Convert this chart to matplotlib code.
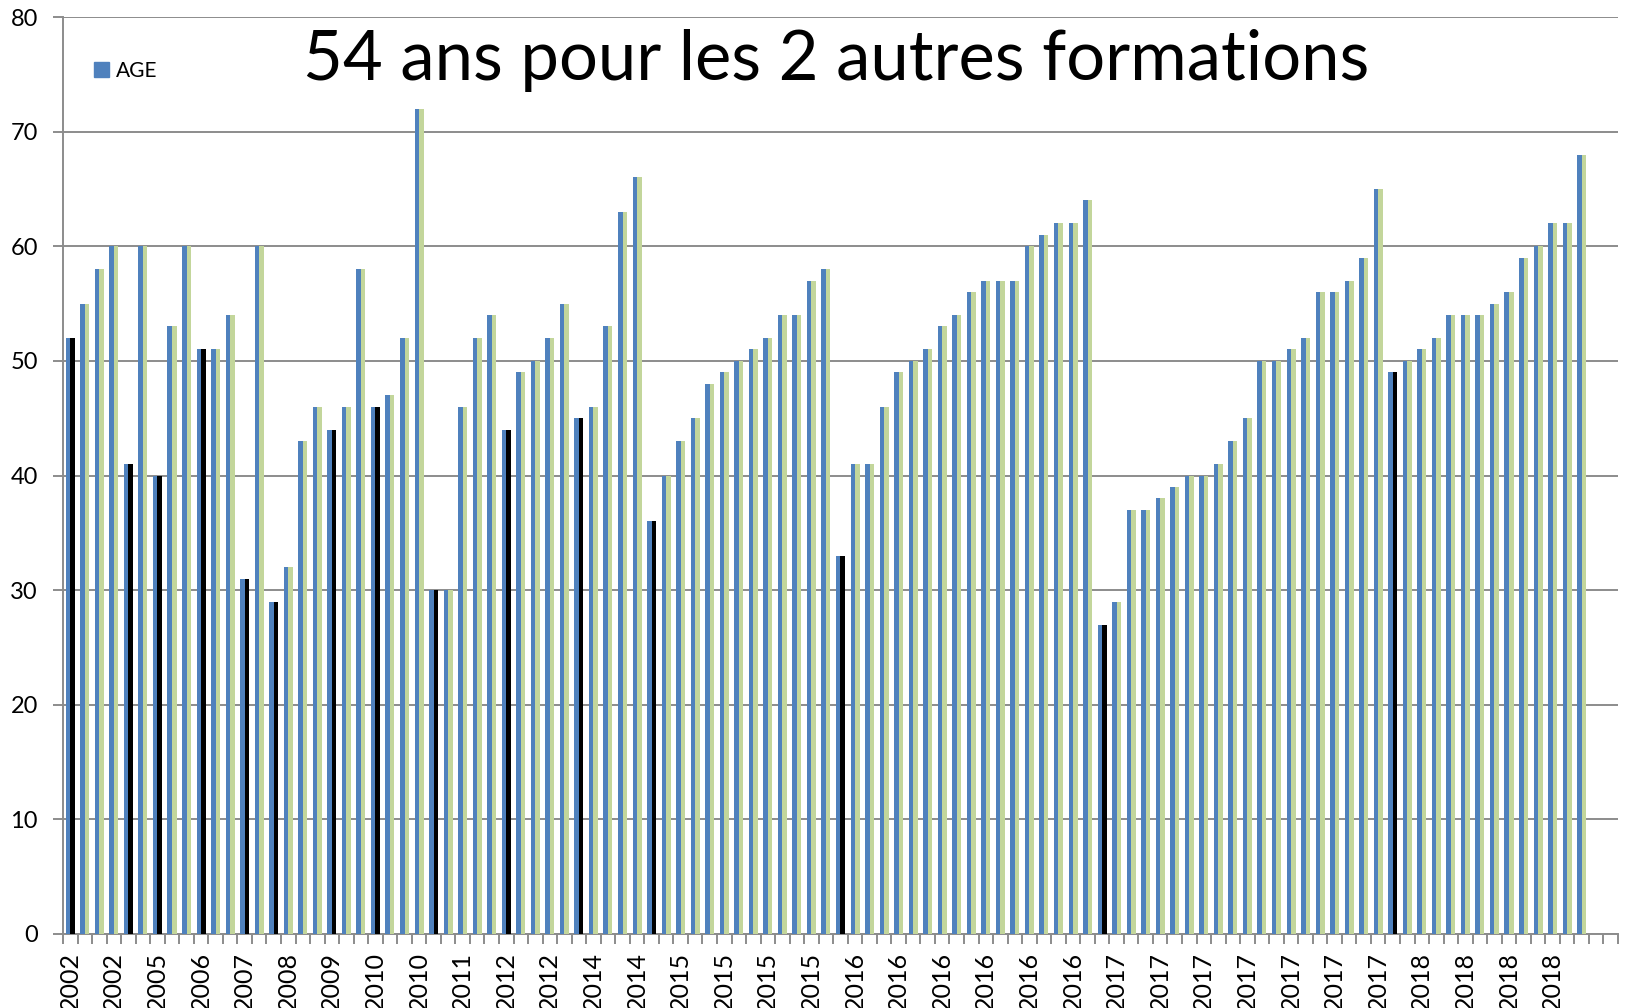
import matplotlib
matplotlib.use('Agg')
import matplotlib.pyplot as plt
from matplotlib.patches import Patch

# Ages, one per entry (107 slots on the axis, the last two are empty)
ages = [52, 55, 58, 60, 41, 60, 40, 53, 60, 51,
        51, 54, 31, 60, 29, 32, 43, 46, 44, 46,
        58, 46, 47, 52, 72, 30, 30, 46, 52, 54,
        44, 49, 50, 52, 55, 45, 46, 53, 63, 66,
        36, 40, 43, 45, 48, 49, 50, 51, 52, 54,
        54, 57, 58, 33, 41, 41, 46, 49, 50, 51,
        53, 54, 56, 57, 57, 57, 60, 61, 62, 62,
        64, 27, 29, 37, 37, 38, 39, 40, 40, 41,
        43, 45, 50, 50, 51, 52, 56, 56, 57, 59,
        65, 49, 50, 51, 52, 54, 54, 54, 55, 56,
        59, 60, 62, 62, 68]
n_slots = 107

# entries drawn in black in the second series
highlighted = [0, 4, 6, 9, 12, 14, 18, 21, 25, 30, 35, 40, 53, 71, 91]

# year labels, shown on every third entry
year_labels = ['2002', '2002', '2005', '2006', '2007', '2008', '2009', '2010', '2010',
               '2011', '2012', '2012', '2014', '2014',
               '2015', '2015', '2015', '2015',
               '2016', '2016', '2016', '2016', '2016', '2016',
               '2017', '2017', '2017', '2017', '2017', '2017', '2017',
               '2018', '2018', '2018', '2018']

title = '54 ans pour les 2 autres formations'

plt.rcParams['font.family'] = ['Lato', 'DejaVu Sans']

blue = '#4f81bd'
green = '#c3d69b'
grid_grey = '#8c8c8c'

fig = plt.figure(figsize=(16.28, 10.08), dpi=100)
ax = fig.add_axes([63 / 1628, 1 - 934 / 1008, 1555 / 1628, 917 / 1008])

x = list(range(len(ages)))
w = 0.31
second_colors = ['black' if i in highlighted else green for i in x]
ax.bar([i - w / 2 for i in x], ages, width=w, color=blue, zorder=3)
ax.bar([i + w / 2 for i in x], ages, width=w, color=second_colors, zorder=3)

ax.set_xlim(-0.5, n_slots - 0.5)
ax.set_ylim(0, 80)
ax.set_yticks(range(0, 81, 10))
ax.yaxis.grid(True, color=grid_grey, lw=1.4, zorder=0)
ax.set_axisbelow(True)

# tick marks between entries, labels on every third entry
ax.set_xticks([i - 0.5 for i in range(n_slots + 1)])
ax.set_xticklabels([])
ax.set_xticks(list(range(0, 3 * len(year_labels), 3)), minor=True)
ax.set_xticklabels(year_labels, minor=True, rotation=90, fontsize=18)
ax.tick_params(axis='x', which='major', length=7, width=1.4, color=grid_grey)
ax.tick_params(axis='x', which='minor', length=0, pad=13)
ax.tick_params(axis='y', length=7, width=1.4, color=grid_grey, labelsize=17, pad=11)

for side in ['top', 'right']:
    ax.spines[side].set_visible(False)
for side in ['left', 'bottom']:
    ax.spines[side].set_color(grid_grey)
    ax.spines[side].set_linewidth(1.4)

fig.legend(handles=[Patch(color=blue, label='AGE')], loc='center left',
           bbox_to_anchor=(94 / 1628, 1 - 71 / 1008), frameon=False,
           fontsize=15, handlelength=0.7, handleheight=0.7,
           handletextpad=0.35, borderpad=0, borderaxespad=0)

fig.text(836 / 1628, 1 - 80 / 1008, title, fontsize=49.5, ha='center', va='baseline')

fig.savefig('out.png', dpi=100)
